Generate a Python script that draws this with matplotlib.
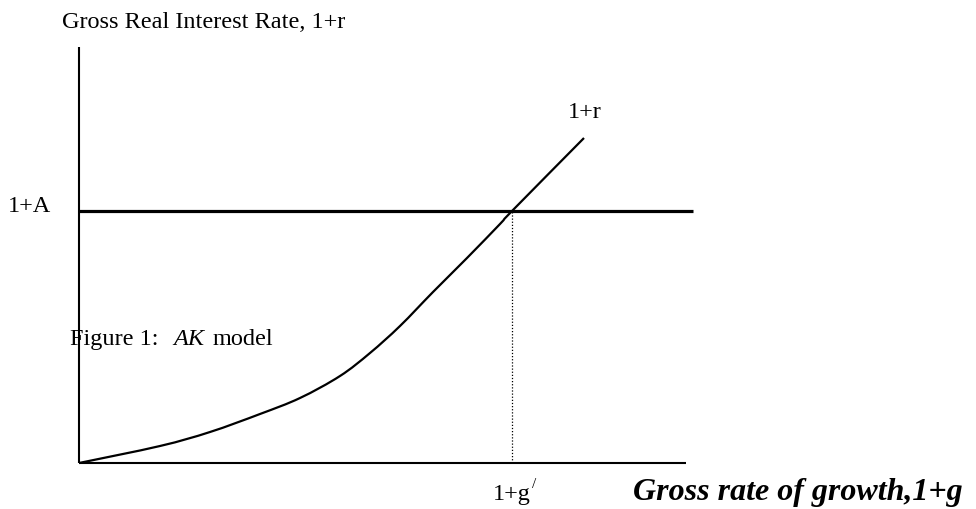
import matplotlib
matplotlib.use("Agg")
import matplotlib.pyplot as plt
from matplotlib.path import Path
from matplotlib.patches import PathPatch

plt.rcParams['font.family'] = ['Liberation Serif', 'DejaVu Serif']

# curva 1+r
curve_x = [0, 81, 131, 181, 221, 261, 291, 321, 354, 388, 421, 433, 505]
curve_y = [0, 17, 31, 49, 65, 87, 110, 137, 171, 205, 239, 252, 325]

# nível 1+A e ponto de cruzamento 1+g'
level_A = 252
g_star = 433
x_axis_end = 607
y_axis_top = 416
line_A_end = 614


def smooth_path(xs, ys):
    # curva suave (Catmull-Rom -> Bezier) passando pelos pontos lidos
    pts = list(zip(xs, ys))
    verts = [pts[0]]
    codes = [Path.MOVETO]
    n = len(pts)
    for i in range(n - 1):
        p0 = pts[i - 1] if i > 0 else pts[i]
        p1 = pts[i]
        p2 = pts[i + 1]
        p3 = pts[i + 2] if i + 2 < n else pts[i + 1]
        c1 = (p1[0] + (p2[0] - p0[0]) / 6, p1[1] + (p2[1] - p0[1]) / 6)
        c2 = (p2[0] - (p3[0] - p1[0]) / 6, p2[1] - (p3[1] - p1[1]) / 6)
        verts += [c1, c2, p2]
        codes += [Path.CURVE4] * 3
    return Path(verts, codes)


fig = plt.figure(figsize=(9.76, 5.10), dpi=100)
ax = fig.add_axes([0, 0, 1, 1])
ax.set_xlim(-79, 976 - 79)
ax.set_ylim(464 - 510, 464)
ax.axis('off')

# eixos
ax.plot([0, x_axis_end], [0, 0], color='black', lw=1.5, solid_capstyle='butt')
ax.plot([0, 0], [0, y_axis_top], color='black', lw=1.5, solid_capstyle='butt')

# linha horizontal 1+A
ax.plot([0, line_A_end], [level_A, level_A], color='black', lw=2.3, solid_capstyle='butt')

# curva 1+r
ax.add_patch(PathPatch(smooth_path(curve_x, curve_y), facecolor='none',
                       edgecolor='black', lw=1.6))

# linha pontilhada em 1+g'
ax.plot([g_star, g_star], [0, level_A], color='black', lw=0.9, linestyle=(0, (1, 1.5)))

# textos
fs = 17.5
ax.text(-17, 436, "Gross Real Interest Rate, 1+r", fontsize=fs, va='baseline', ha='left')
ax.text(-71, 252, "1+A", fontsize=fs, va='baseline', ha='left')
ax.text(489, 346, "1+r", fontsize=fs, va='baseline', ha='left')
ax.text(-9, 119, "Figure 1:", fontsize=fs, va='baseline', ha='left')
ax.text(94, 119, "AK", fontsize=fs, va='baseline', ha='left', style='italic')
ax.text(134, 119, "model", fontsize=fs, va='baseline', ha='left')
ax.text(414, -36, "1+g", fontsize=fs, va='baseline', ha='left')
ax.text(453, -24, "/", fontsize=11, va='baseline', ha='left')
ax.text(554, -36, "Gross rate of growth,1+g", fontsize=23, va='baseline', ha='left',
        fontweight='bold', style='italic')

fig.savefig("out.png", dpi=100)
